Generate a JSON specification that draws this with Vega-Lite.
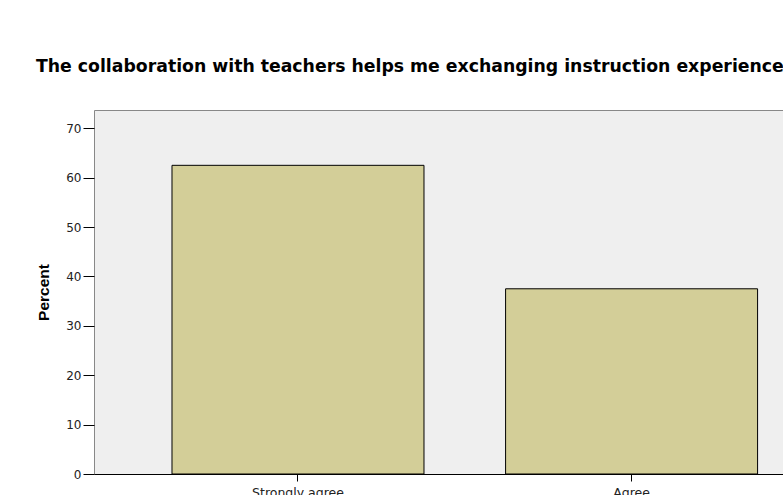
{
  "$schema": "https://vega.github.io/schema/vega-lite/v6.json",
  "width": 690,
  "height": 364,
  "autosize": {"type": "none"},
  "padding": {"left": 94, "top": 110, "right": 0, "bottom": 21},
  "background": "white",
  "title": {
    "text": "The collaboration with teachers helps me exchanging instruction experiences",
    "anchor": "start",
    "frame": "group",
    "dx": -58,
    "offset": 35,
    "font": "DejaVu Sans",
    "fontSize": 17.3,
    "fontWeight": "bold",
    "color": "black"
  },
  "data": {
    "values": [
      {"response": "Strongly agree", "percent": 62.5},
      {"response": "Agree", "percent": 37.5}
    ]
  },
  "mark": {"type": "bar", "fill": "#d3ce98", "stroke": "black", "strokeWidth": 1},
  "encoding": {
    "x": {
      "field": "response",
      "type": "nominal",
      "sort": null,
      "scale": {"paddingInner": 0.2446, "paddingOuter": 0.1565, "align": 0.747},
      "axis": {
        "title": null,
        "labelAngle": 0,
        "tickSize": 7,
        "tickColor": "black",
        "domainColor": "black",
        "labelFont": "DejaVu Sans",
        "labelFontSize": 12.5,
        "labelColor": "#222222",
        "labelPadding": 5,
        "labelBaseline": "top"
      }
    },
    "y": {
      "field": "percent",
      "type": "quantitative",
      "scale": {"domain": [0, 73.7], "nice": false},
      "axis": {
        "values": [0, 10, 20, 30, 40, 50, 60, 70],
        "grid": false,
        "domain": false,
        "tickSize": 11,
        "tickColor": "black",
        "labelFont": "DejaVu Sans",
        "labelFontSize": 12,
        "labelColor": "#222222",
        "labelPadding": 2,
        "title": "Percent",
        "titleFont": "Liberation Sans",
        "titleFontSize": 15.5,
        "titleFontWeight": "bold",
        "titleColor": "black",
        "titlePadding": 14
      }
    }
  },
  "config": {
    "view": {"fill": "#efefef", "stroke": "#888888", "strokeWidth": 1}
  }
}
